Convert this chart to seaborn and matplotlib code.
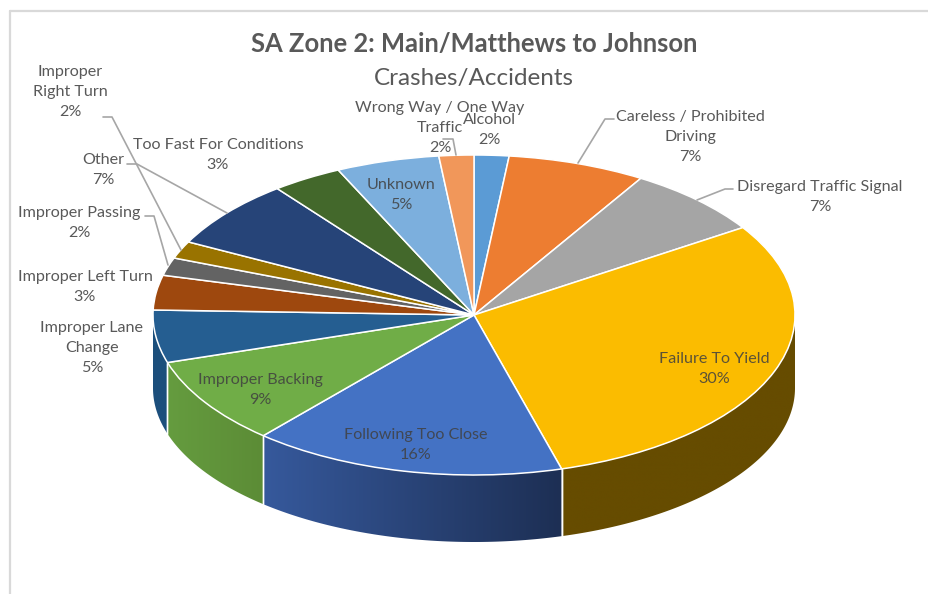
import numpy as np
import matplotlib
matplotlib.use("Agg")
import matplotlib.pyplot as plt
from matplotlib.patches import Polygon
from matplotlib.transforms import Affine2D
from matplotlib.colors import to_rgb
import seaborn as sb

causes = ["Alcohol", "Careless / Prohibited\nDriving", "Disregard Traffic Signal",
          "Failure To Yield", "Following Too Close", "Improper Backing",
          "Improper Lane\nChange", "Improper Left Turn", "Improper Passing",
          "Improper\nRight Turn", "Other", "Too Fast For Conditions",
          "Unknown", "Wrong Way / One Way\nTraffic"]
# slice sizes, labels are what the chart prints
shares = [1.75, 6.95, 7.1, 29.8, 15.8, 8.8, 5.3, 3.5, 1.8, 1.75, 6.95, 3.55, 5.2, 1.75]
percents = [2, 7, 7, 30, 16, 9, 5, 3, 2, 2, 7, 3, 5, 2]

colors = ["#5b9bd5", "#ed7d31", "#a5a5a5", "#fbbc00", "#4472c4", "#70ad47", "#255e91",
          "#9e480e", "#636363", "#997300", "#264478", "#43682b", "#7cafdd", "#f1975a"]
# side wall colour at left and right end of each front slice
walls = {3: ("#664c00", "#664c00"), 4: ("#36599c", "#1d2f54"),
         5: ("#659c3f", "#5c8c36"), 6: ("#1c4f7c", "#1c4f7c")}

W, H = 929, 594
cx, cy, rx, ry = 474, 315, 321, 160
drop, ry_low = 73 / ry, 154 / ry

sb.set_theme(style="white")
plt.rcParams["font.family"] = ["Lato", "DejaVu Sans"]

fig = plt.figure(figsize=(W / 100, H / 100), dpi=100)
ax = fig.add_axes([0, 0, 1, 1])
pix = Affine2D().scale(1 / W, -1 / H).translate(0, 1) + fig.transFigure

wedges, _ = ax.pie(shares, colors=colors, startangle=90, counterclock=False,
                   wedgeprops=dict(edgecolor="white", linewidth=1.1, zorder=3))

# side wall: shaded image clipped to the visible band under each front slice
for i, (left, right) in walls.items():
    t1, t2 = max(wedges[i].theta1, -180), min(wedges[i].theta2, 0)
    t = np.radians(np.linspace(t1, t2, 120))
    x, top, low = np.cos(t), np.sin(t), -drop + ry_low * np.sin(t)
    band = Polygon(np.r_[np.c_[x, top], np.c_[x, low][::-1]], closed=True,
                   transform=ax.transData, fc="none", ec="none")
    ax.add_patch(band)
    shade = np.linspace(to_rgb(left), to_rgb(right), 256)[None, :, :]
    ax.imshow(shade, extent=[x.min(), x.max(), low.min(), top.max()], aspect="auto",
              interpolation="bilinear", clip_path=band, zorder=1)
    for th in np.radians([t1, t2]):
        if 0.01 < abs(np.sin(th)) and abs(np.cos(th)) < 0.99:
            ax.plot([np.cos(th)] * 2, [np.sin(th), -drop + ry_low * np.sin(th)],
                    color="white", lw=1, zorder=2)

ax.set_aspect("auto")
ax.set_xlim(-cx / rx, (W - cx) / rx)
ax.set_ylim((cy - H) / ry, cy / ry)
ax.axis("off")

# chart frame
frame = dict(transform=pix, color="#d9d9d9", lw=1.6, clip_on=False)
ax.plot([10, W], [11, 11], **frame)
ax.plot([10, 10], [11, H], **frame)

ax.text(cx, 44, "SA Zone 2: Main/Matthews to Johnson", transform=pix, ha="center", va="center",
        fontsize=18.4, fontweight="bold", color="#595959")
ax.text(cx, 79, "Crashes/Accidents", transform=pix, ha="center", va="center",
        fontsize=17.5, color="#595959")

label_pos = [(489, 130), (690, 137), (820, 197), (714, 369), (416, 445), (260, 390), (92, 348),
             (85, 287), (79, 223), (70, 92), (103, 170), (218, 155), (401, 195), (440, 128)]
inside = {"Failure To Yield", "Following Too Close", "Improper Backing", "Unknown"}
for name, pct, (x, y) in zip(causes, percents, label_pos):
    ax.text(x, y, f"{name}\n{pct}%", transform=pix, ha="center", va="center", fontsize=11.6,
            linespacing=1.55, color="#404040" if name in inside else "#595959",
            alpha=0.85 if name in inside else 1, zorder=5)

leaders = [([103, 112, 181], [117, 117, 250]), ([127, 137, 227], [164, 164, 213]),
           ([145, 154, 168], [216, 216, 265]), ([443, 453, 456], [139, 139, 155]),
           ([614, 605, 578], [119, 119, 163]), ([733, 725, 697], [189, 189, 200])]
for xs, ys in leaders:
    ax.plot(xs, ys, transform=pix, color="#a6a6a6", lw=1.2, zorder=4)

fig.savefig("out.png", dpi=100, facecolor="white")
